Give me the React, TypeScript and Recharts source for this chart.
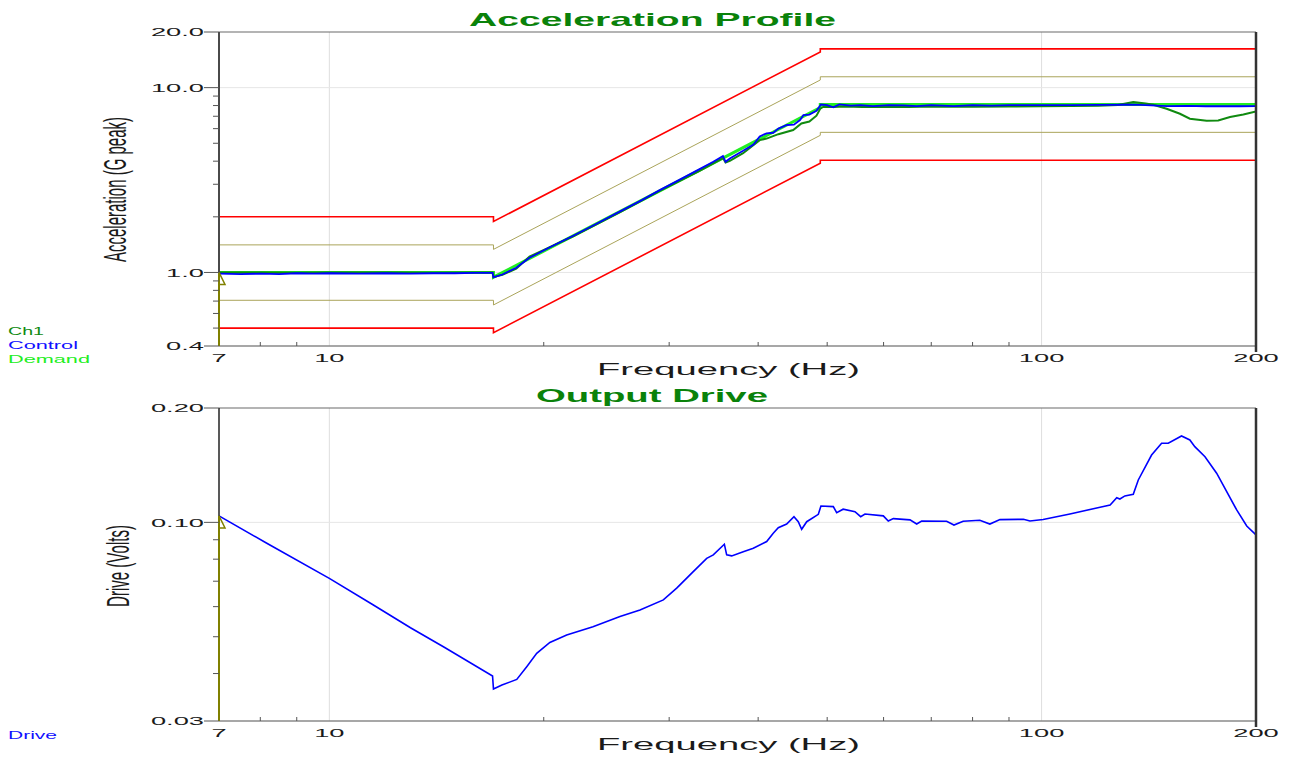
import React from 'react';
import { LineChart, Line, XAxis, YAxis, ReferenceLine, ReferenceDot } from 'recharts';

// ---- axis ticks ----
const freqTicks = [7, 8, 9, 10, 20, 30, 40, 50, 60, 70, 80, 90, 100, 200];
const freqLabels: Record<string, string> = { '7': '7', '10': '10', '100': '100', '200': '200' };
const accelTicks = [0.4, 0.5, 0.6, 0.7, 0.8, 0.9, 1, 2, 3, 4, 5, 6, 7, 8, 9, 10, 20];
const accelLabels: Record<string, string> = { '0.4': '0.4', '1': '1.0', '10': '10.0', '20': '20.0' };
const driveTicks = [0.03, 0.04, 0.05, 0.06, 0.07, 0.08, 0.09, 0.1, 0.2];
const driveLabels: Record<string, string> = { '0.03': '0.03', '0.1': '0.10', '0.2': '0.20' };

// ---- acceleration profile: reference and tolerance bands (Hz, G peak) ----
const profileF = [7, 17, 17, 48.9, 48.9, 200];
const demandG = [1.0, 1.0, 0.943, 7.8, 8.1, 8.1];
const abortHiG = [2.0, 2.0, 1.886, 15.6, 16.2, 16.2];
const alarmHiG = [1.41, 1.41, 1.333, 11.0, 11.45, 11.45];
const alarmLoG = [0.707, 0.707, 0.667, 5.52, 5.73, 5.73];
const abortLoG = [0.5, 0.5, 0.472, 3.9, 4.05, 4.05];

// ---- control channel ----
const controlF = [7, 7.5, 8, 8.5, 9, 9.5, 10, 11, 12, 13, 14, 15, 16, 16.95, 17.0, 17.5, 18.3, 19.1, 20.4, 22.0,
  23.5, 25.6, 27.5, 29.1, 31.0, 33.0, 34.6, 35.7, 36.0, 36.5, 38.1, 39.4, 40.2, 41.1, 42.0, 42.7, 43.9, 44.9,
  45.8, 46.3, 47.2, 48.3, 49.0, 50.0, 51.0, 52.0, 54.0, 55.7, 58.0, 61.0, 64.0, 66.8, 70, 75.3, 80, 85, 90,
  100, 110, 120, 130, 135, 140, 150, 160, 170, 180, 190, 200];
const controlG = [0.985, 0.98, 0.985, 0.98, 0.99, 0.985, 0.99, 0.985, 0.99, 0.985, 0.99, 0.99, 0.995, 0.995,
  0.94, 0.975, 1.06, 1.2, 1.37, 1.58, 1.8, 2.14, 2.47, 2.79, 3.17, 3.6, 3.97, 4.27, 3.97, 4.14, 4.55, 4.92,
  5.45, 5.66, 5.7, 6.0, 6.28, 6.3, 6.68, 7.1, 7.15, 7.5, 8.1, 8.05, 7.82, 8.12, 8.0, 8.05, 7.95, 8.05, 8.02,
  7.95, 8.05, 7.95, 8.05, 8.0, 8.05, 8.05, 8.05, 8.07, 8.08, 8.1, 8.05, 7.95, 7.97, 7.93, 7.95, 7.93, 7.95];

// ---- Ch1 response ----
const ch1F = [7, 8, 9, 10, 12, 14, 16, 16.95, 17.0, 17.5, 18.3, 19.1, 20.4, 22.0, 25.6, 29.1, 33.0, 35.7, 36.0,
  36.5, 38.1, 40.2, 41.1, 42.7, 44.8, 46.0, 47.2, 48.3, 48.9, 49.4, 51, 53, 56, 60, 65, 70, 80, 90, 100, 110,
  120, 128, 134.5, 140, 143.5, 149.8, 156.4, 161.5, 170.5, 177, 183.9, 192, 200];
const ch1G = [1.0, 1.0, 0.995, 1.0, 1.0, 0.995, 1.0, 1.0, 0.945, 0.97, 1.05, 1.22, 1.37, 1.57, 2.12, 2.76,
  3.52, 4.16, 3.93, 4.02, 4.42, 5.2, 5.3, 5.6, 5.9, 6.4, 6.55, 7.05, 7.7, 7.88, 7.85, 7.9, 7.85, 7.88, 7.85,
  7.9, 7.87, 7.9, 7.92, 7.95, 7.97, 8.05, 8.36, 8.2, 8.08, 7.69, 7.22, 6.79, 6.62, 6.65, 6.93, 7.15, 7.44];

// ---- output drive (Volts) ----
const driveF = [7, 8.17, 10, 11.5, 13, 14.5, 16.95, 17.0, 17.47, 18.33, 18.93, 19.55, 20.4, 21.54, 23.45, 25.59,
  27.3, 29.44, 30.74, 32.43, 33.87, 34.6, 35.86, 36.13, 36.72, 38.12, 39.38, 41.12, 42.0, 42.69, 43.86, 44.91,
  45.54, 46.04, 46.8, 48.59, 49.0, 51.0, 51.56, 52.65, 54.7, 55.72, 56.5, 59.95, 60.92, 61.92, 65.35, 66.78,
  67.86, 73.57, 75.33, 77.6, 81.9, 84.6, 87.4, 94.3, 96.3, 100.5, 109.6, 120.8, 124.8, 127.5, 128.8, 130.9,
  134.5, 136.7, 142.7, 147.4, 150.6, 157.2, 161.5, 164.1, 169.6, 176.1, 187.9, 194.1, 200];
const driveV = [0.104, 0.0881, 0.0712, 0.0608, 0.0528, 0.0469, 0.0394, 0.0364, 0.0373, 0.0386, 0.0417, 0.0452,
  0.0483, 0.0505, 0.0531, 0.0565, 0.0588, 0.0625, 0.0671, 0.0742, 0.0804, 0.0821, 0.0876, 0.0821, 0.0816,
  0.0837, 0.0855, 0.089, 0.0936, 0.0968, 0.099, 0.1035, 0.1004, 0.0959, 0.1004, 0.105, 0.1104, 0.11, 0.1061,
  0.1083, 0.1067, 0.1035, 0.1052, 0.104, 0.1008, 0.1023, 0.1015, 0.099, 0.1008, 0.1007, 0.0984, 0.1007,
  0.1013, 0.099, 0.1017, 0.1019, 0.1008, 0.1017, 0.1052, 0.1096, 0.1111, 0.1161, 0.1152, 0.1174, 0.1186,
  0.1293, 0.1504, 0.1615, 0.1615, 0.1688, 0.1648, 0.1582, 0.1489, 0.1347, 0.1078, 0.0978, 0.0927];

// sweep cursor position
const cursorF = 7;
const cursorG = 1.0;
const cursorV = 0.104;

const rows = (f: number[], v: number[]) => f.map((x, i) => ({ f: x, v: v[i] }));

const FONT = '"Liberation Sans", Arial, Helvetica, sans-serif';
const TICK_STRETCH = 2.35;
const GREEN = '#0a820a';
const OLIVE = '#808000';
const BAND = '#aaa45a';

const Stretched = ({ x, y, sx, size, anchor, children, fill = '#1a1a1a' }: any) => (
  <g transform={`translate(${x},${y}) scale(${sx},1)`}>
    <text x={0} y={0} fontSize={size} fontFamily={FONT} textAnchor={anchor} fill={fill}>{children}</text>
  </g>
);

const makeXTick = () => (props: any) => {
  const { x, y, payload } = props;
  const label = freqLabels[String(payload.value)];
  return (
    <g>
      {!label && <line x1={x} x2={x} y1={y - 4} y2={y} stroke="#555" strokeWidth={1} />}
      {payload.value === 200 && <line x1={x} x2={x} y1={y} y2={y + 6} stroke="#333" strokeWidth={2.5} />}
      {label && (
        <Stretched x={x} y={y + 15.5} sx={TICK_STRETCH} size={11.6} anchor="middle">{label}</Stretched>
      )}
    </g>
  );
};

const makeYTick = (labels: Record<string, string>) => (props: any) => {
  const { x, y, payload } = props;
  const label = labels[String(payload.value)];
  return (
    <g>
      <line x1={x - (label ? 15 : 6)} x2={x} y1={y} y2={y} stroke="#555" strokeWidth={1} />
      {label && (
        <Stretched x={x - 15} y={y + 4.2} sx={TICK_STRETCH} size={11.6} anchor="end">{label}</Stretched>
      )}
    </g>
  );
};

const Flag = (props: any) => {
  const { cx, cy } = props;
  return <path d={`M${cx},${cy} L${cx + 6},${cy + 12} L${cx},${cy + 12} Z`} fill="none" stroke={OLIVE} strokeWidth={1.5} />;
};

const TopChart = () => (
  <LineChart width={1300} height={380} margin={{ top: 32, right: 44, left: 159, bottom: 4 }}>
    <XAxis type="number" dataKey="f" scale="log" domain={[7, 200]} allowDataOverflow ticks={freqTicks}
      interval={0} tick={makeXTick()} tickLine={false} tickSize={0} tickMargin={0} height={30}
      axisLine={{ stroke: '#8a8a8a', strokeWidth: 1.5 }} />
    <YAxis type="number" dataKey="v" scale="log" domain={[0.4, 20]} allowDataOverflow ticks={accelTicks}
      interval={0} tick={makeYTick(accelLabels)} tickLine={false} tickSize={0} tickMargin={0} width={60}
      axisLine={false} />
    <ReferenceLine x={10} stroke="#dedede" zIndex={-100} />
    <ReferenceLine x={100} stroke="#dedede" zIndex={-100} />
    <ReferenceLine y={1} stroke="#e6e6e6" zIndex={-100} />
    <ReferenceLine y={10} stroke="#e6e6e6" zIndex={-100} />
    <Line data={rows(profileF, abortHiG)} dataKey="v" stroke="#ff0000" strokeWidth={1.6} dot={false} isAnimationActive={false} />
    <Line data={rows(profileF, alarmHiG)} dataKey="v" stroke={BAND} strokeWidth={1} dot={false} isAnimationActive={false} />
    <Line data={rows(profileF, alarmLoG)} dataKey="v" stroke={BAND} strokeWidth={1} dot={false} isAnimationActive={false} />
    <Line data={rows(profileF, abortLoG)} dataKey="v" stroke="#ff0000" strokeWidth={1.6} dot={false} isAnimationActive={false} />
    <Line data={rows(profileF, demandG)} dataKey="v" stroke="#22ee22" strokeWidth={3} dot={false} isAnimationActive={false} />
    <Line data={rows(ch1F, ch1G)} dataKey="v" stroke="#108a10" strokeWidth={2} dot={false} isAnimationActive={false} />
    <Line data={rows(controlF, controlG)} dataKey="v" stroke="#0000ff" strokeWidth={1.8} dot={false} isAnimationActive={false} />
    <ReferenceLine y={20} stroke="#6a6a6a" strokeWidth={1.2} zIndex={600} />
    <ReferenceLine x={200} stroke="#333" strokeWidth={2.5} zIndex={600} />
    <ReferenceLine segment={[{ x: 7, y: cursorG }, { x: 7, y: 20 }]} stroke="#4a4a4a" strokeWidth={2} zIndex={600} />
    <ReferenceLine segment={[{ x: cursorF, y: 0.4 }, { x: cursorF, y: cursorG }]} stroke={OLIVE} strokeWidth={2} zIndex={700} />
    <ReferenceDot x={cursorF} y={cursorG} r={0} shape={Flag} zIndex={700} />
  </LineChart>
);

const BottomChart = () => (
  <LineChart width={1300} height={381} margin={{ top: 28, right: 44, left: 159, bottom: 10 }}>
    <XAxis type="number" dataKey="f" scale="log" domain={[7, 200]} allowDataOverflow ticks={freqTicks}
      interval={0} tick={makeXTick()} tickLine={false} tickSize={0} tickMargin={0} height={30}
      axisLine={{ stroke: '#8a8a8a', strokeWidth: 1.5 }} />
    <YAxis type="number" dataKey="v" scale="log" domain={[0.03, 0.2]} allowDataOverflow ticks={driveTicks}
      interval={0} tick={makeYTick(driveLabels)} tickLine={false} tickSize={0} tickMargin={0} width={60}
      axisLine={false} />
    <ReferenceLine x={10} stroke="#dedede" zIndex={-100} />
    <ReferenceLine x={100} stroke="#dedede" zIndex={-100} />
    <ReferenceLine y={0.1} stroke="#e6e6e6" zIndex={-100} />
    <Line data={rows(driveF, driveV)} dataKey="v" stroke="#0000ff" strokeWidth={1.6} dot={false} isAnimationActive={false} />
    <ReferenceLine y={0.2} stroke="#6a6a6a" strokeWidth={1.2} zIndex={600} />
    <ReferenceLine x={200} stroke="#333" strokeWidth={2.5} zIndex={600} />
    <ReferenceLine segment={[{ x: 7, y: cursorV }, { x: 7, y: 0.2 }]} stroke="#222" strokeWidth={1.5} zIndex={600} />
    <ReferenceLine segment={[{ x: cursorF, y: 0.03 }, { x: cursorF, y: cursorV }]} stroke={OLIVE} strokeWidth={2} zIndex={700} />
    <ReferenceDot x={cursorF} y={cursorV} r={0} shape={Flag} zIndex={700} />
  </LineChart>
);

const Txt = ({ x, y, w, size, anchor = 'start', weight = 'normal', fill = '#1a1a1a', children }: any) => (
  <text x={x} y={y} fontSize={size} fontFamily={FONT} fontWeight={weight} fill={fill} textAnchor={anchor}
    textLength={w} lengthAdjust="spacingAndGlyphs">{children}</text>
);

const VLabel = ({ cx, cy, len, children }: any) => (
  <g transform={`translate(${cx},${cy}) scale(2.1,1) rotate(-90)`}>
    <text x={0} y={0} fontSize={15} fontFamily={FONT} fill="#1a1a1a" textAnchor="middle" dominantBaseline="central"
      textLength={len} lengthAdjust="spacingAndGlyphs">{children}</text>
  </g>
);

const Annotations = () => (
  <svg width={1300} height={761} style={{ position: 'absolute', left: 0, top: 0, pointerEvents: 'none' }}>
    <Txt x={469} y={25.7} w={367} size={18.6} weight="bold" fill={GREEN}>Acceleration Profile</Txt>
    <Txt x={536} y={402} w={232} size={18.6} weight="bold" fill={GREEN}>Output Drive</Txt>
    <Txt x={597} y={375} w={263} size={16.3}>Frequency (Hz)</Txt>
    <Txt x={597} y={750} w={263} size={16.3}>Frequency (Hz)</Txt>
    <VLabel cx={115} cy={189.5} len={145}>Acceleration (G peak)</VLabel>
    <VLabel cx={118} cy={566} len={82}>Drive (Volts)</VLabel>
    <Txt x={8} y={335.3} w={36} size={10} fill="#108a10">Ch1</Txt>
    <Txt x={8} y={349.3} w={70} size={10} fill="#1010ff">Control</Txt>
    <Txt x={8} y={363.3} w={82} size={10} fill="#22ee22">Demand</Txt>
    <Txt x={8} y={739.3} w={49} size={10} fill="#1010ff">Drive</Txt>
  </svg>
);

export default function App() {
  return (
    <div style={{ position: 'absolute', left: 0, top: 0, width: 1300, height: 761, background: '#fff', overflow: 'hidden' }}>
      <div style={{ position: 'absolute', left: 0, top: 0 }}>
        <TopChart />
      </div>
      <div style={{ position: 'absolute', left: 0, top: 380 }}>
        <BottomChart />
      </div>
      <Annotations />
    </div>
  );
}
